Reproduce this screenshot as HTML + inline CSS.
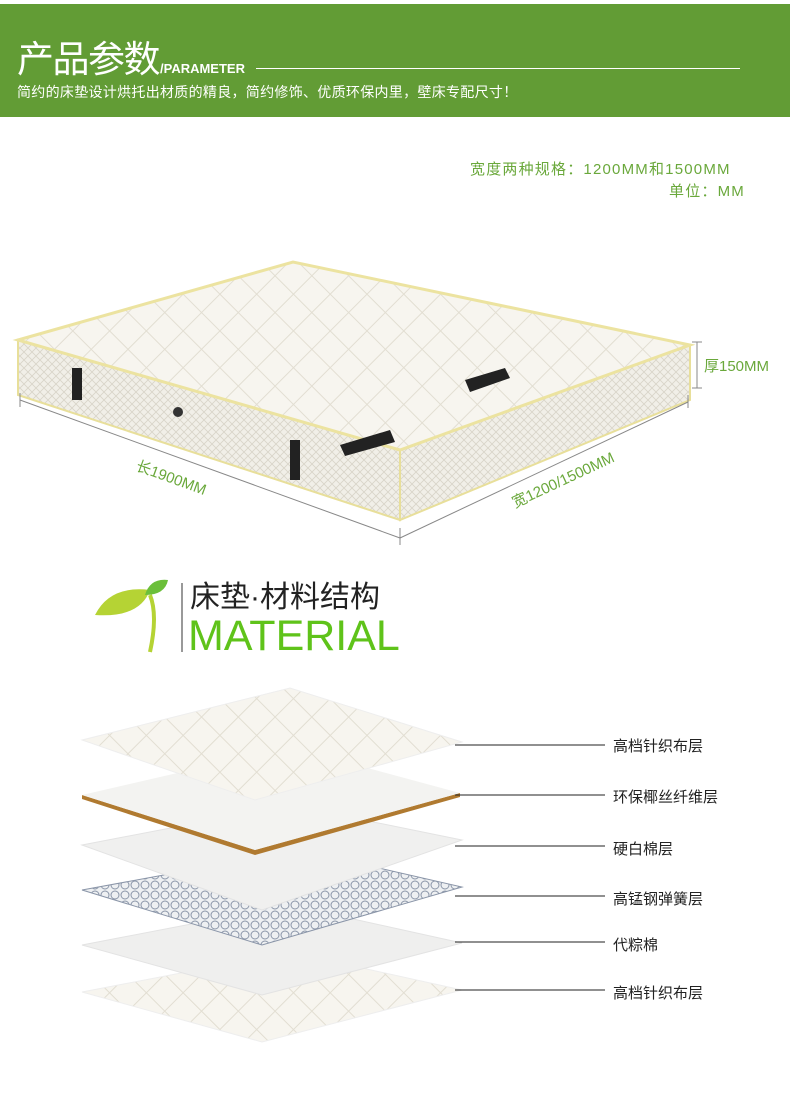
<!DOCTYPE html>
<html><head><meta charset="utf-8"><style>
body{margin:0;width:790px;height:1099px;background:#fff;position:relative;overflow:hidden;font-family:"Liberation Sans","Noto Sans CJK SC",sans-serif}
.a{position:absolute;white-space:nowrap}
</style></head><body>
<div class="a" style="left:0;top:4px;width:790px;height:113px;background:#629c35"></div>
<div class="a" style="left:17px;top:40px;color:#fff;font-size:37px;line-height:40px;letter-spacing:-1.5px">产品参数</div>
<div class="a" style="left:160px;top:61px;color:#fff;font-size:13px;font-weight:bold">/PARAMETER</div>
<div class="a" style="left:256px;top:68px;width:484px;height:1px;background:#fff"></div>
<div class="a" style="left:17px;top:82px;color:#fff;font-size:14px;letter-spacing:0.3px">简约的床垫设计烘托出材质的精良，简约修饰、优质环保内里，壁床专配尺寸！</div>
<div class="a" style="left:470px;top:158px;color:#6aa83b;font-size:15px;letter-spacing:1.2px">宽度两种规格：1200MM和1500MM</div>
<div class="a" style="left:669px;top:180px;color:#6aa83b;font-size:15px;letter-spacing:1.2px">单位：MM</div>

<svg class="a" style="left:0;top:0" width="790" height="1099">
<defs>
<pattern id="q" width="26" height="26" patternUnits="userSpaceOnUse" patternTransform="rotate(45)">
<rect width="26" height="26" fill="#f7f5ef"/><path d="M0 0H26V26" stroke="#e2ded2" fill="none" stroke-width="2"/></pattern>
<pattern id="d" width="8" height="8" patternUnits="userSpaceOnUse"><rect width="8" height="8" fill="#f1efe8"/><path d="M0 0L8 8M8 0L0 8" stroke="#d8d4c8" stroke-width="0.8"/></pattern>
<pattern id="s" width="10" height="10" patternUnits="userSpaceOnUse"><rect width="10" height="10" fill="#eef0f2"/><circle cx="5" cy="5" r="4" stroke="#8a95a8" fill="none" stroke-width="1"/></pattern>
</defs>
<polygon points="18,340 400,450 400,520 18,395" fill="url(#d)" stroke="#e8df9a" stroke-width="2"/>
<polygon points="400,450 690,345 690,400 400,520" fill="url(#d)" stroke="#e8df9a" stroke-width="2"/>
<polygon points="18,340 293,262 690,345 400,450" fill="url(#q)" stroke="#ece3a0" stroke-width="3"/>
<rect x="72" y="368" width="10" height="32" fill="#222"/>
<rect x="290" y="440" width="10" height="40" fill="#222"/>
<polygon points="465,380 505,368 510,378 470,392" fill="#222"/>
<polygon points="340,445 390,430 395,442 345,456" fill="#222"/>
<circle cx="178" cy="412" r="5" fill="#333"/>
<g stroke="#888" stroke-width="1" fill="none">
<line x1="20" y1="400" x2="400" y2="538"/><line x1="400" y1="538" x2="688" y2="402"/>
<line x1="20" y1="393" x2="20" y2="407"/><line x1="400" y1="528" x2="400" y2="545"/><line x1="688" y1="395" x2="688" y2="408"/>
<line x1="697" y1="342" x2="697" y2="388"/><line x1="692" y1="342" x2="702" y2="342"/><line x1="692" y1="388" x2="702" y2="388"/>
</g>
<text x="135" y="470" fill="#6aa83b" font-size="15" transform="rotate(20 135 470)" font-family="Liberation Sans,Noto Sans CJK SC,sans-serif">长1900MM</text>
<text x="515" y="508" fill="#6aa83b" font-size="15" transform="rotate(-25 515 508)" font-family="Liberation Sans,Noto Sans CJK SC,sans-serif">宽1200/1500MM</text>
<text x="704" y="371" fill="#6aa83b" font-size="15" font-family="Liberation Sans,Noto Sans CJK SC,sans-serif">厚150MM</text>
<path d="M95 615 Q110 585 150 590 Q140 618 95 615Z" fill="#b5d334"/>
<path d="M145 595 Q150 578 168 580 Q165 595 145 595Z" fill="#6bbf3a"/>
<path d="M150 595 Q158 615 150 652" stroke="#b5d334" stroke-width="4" fill="none"/>
<line x1="182" y1="583" x2="182" y2="652" stroke="#333" stroke-width="1"/>
<polygon points="82,992 290,952 462,990 262,1042" fill="url(#q)" stroke="#eee"/>
<polygon points="82,945 290,905 462,943 262,995" fill="#efefee" stroke="#e3e3e3"/>
<polygon points="82,890 300,850 462,887 262,945" fill="url(#s)" stroke="#8a95a8"/>
<polygon points="82,845 290,805 462,840 262,910" fill="#f0f0ef" stroke="#e3e3e3"/>
<polygon points="82,795 82,799 255,855 460,797 460,793 255,850" fill="#b07a30"/>
<polygon points="82,795 290,747 460,793 255,850" fill="#f3f3f1"/>
<polygon points="82,740 290,688 462,742 255,800" fill="url(#q)" stroke="#eee"/>
<g stroke="#222" stroke-width="1">
<line x1="455" y1="745" x2="605" y2="745"/><line x1="455" y1="795" x2="605" y2="795"/>
<line x1="455" y1="846" x2="605" y2="846"/><line x1="455" y1="896" x2="605" y2="896"/>
<line x1="455" y1="942" x2="605" y2="942"/><line x1="455" y1="990" x2="605" y2="990"/>
</g>
</svg>
<div class="a" style="left:190px;top:580px;color:#222;font-size:30px;line-height:36px">床垫·材料结构</div>
<div class="a" style="left:188px;top:614px;color:#5fc31a;font-size:43px;line-height:44px">MATERIAL</div>
<div class="a" style="left:613px;top:735px;font-size:15px;color:#222">高档针织布层</div>
<div class="a" style="left:613px;top:786px;font-size:15px;color:#222">环保椰丝纤维层</div>
<div class="a" style="left:613px;top:838px;font-size:15px;color:#222">硬白棉层</div>
<div class="a" style="left:613px;top:888px;font-size:15px;color:#222">高锰钢弹簧层</div>
<div class="a" style="left:613px;top:934px;font-size:15px;color:#222">代粽棉</div>
<div class="a" style="left:613px;top:982px;font-size:15px;color:#222">高档针织布层</div>
</body></html>
